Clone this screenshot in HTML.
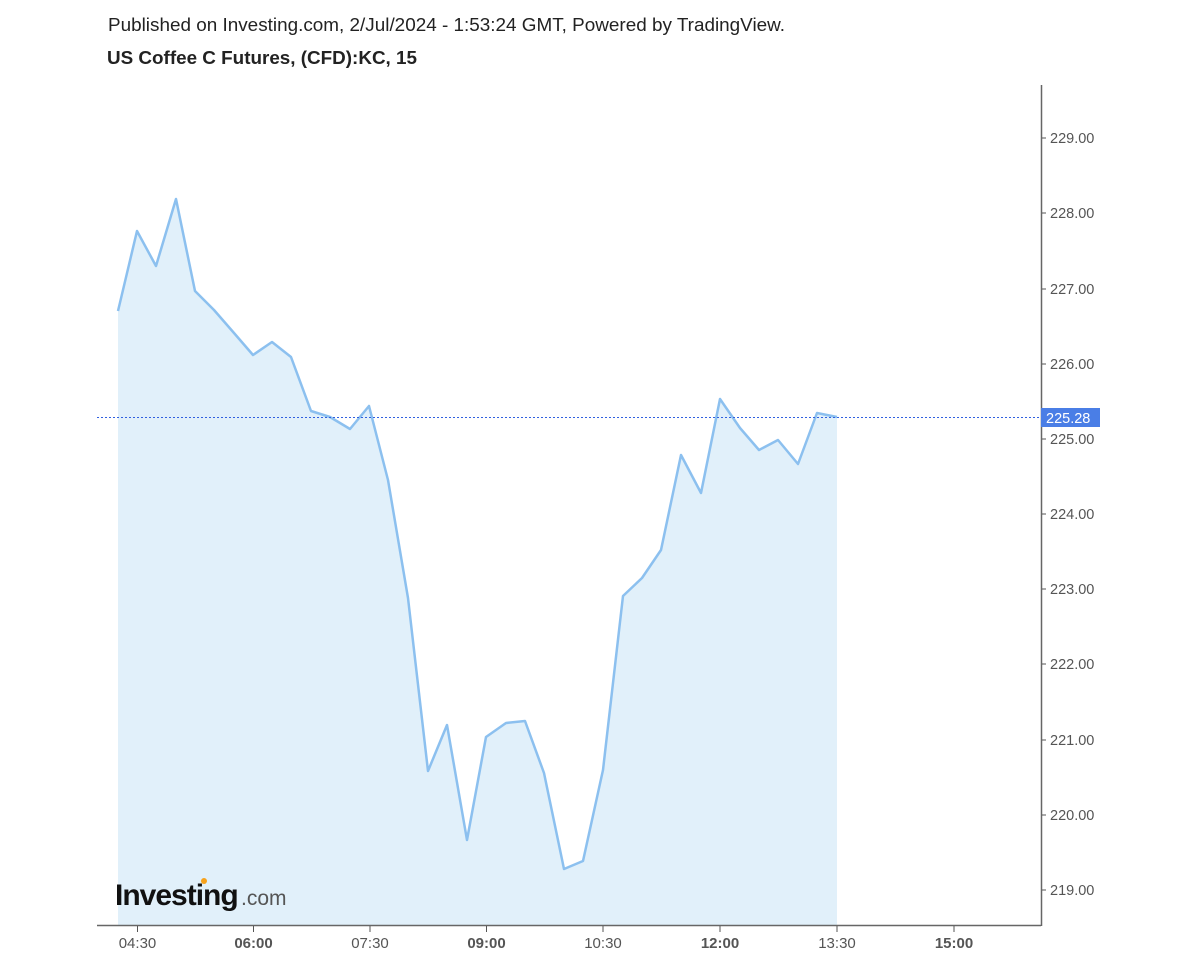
<!DOCTYPE html>
<html><head><meta charset="utf-8"><style>
body{margin:0;background:#fff;}
svg{display:block;font-family:"Liberation Sans",Arial,sans-serif;}
</style></head><body>
<svg width="1200" height="960" viewBox="0 0 1200 960">
<rect width="1200" height="960" fill="#fff"/>
<text x="108" y="31" font-size="18" fill="#222" textLength="677" lengthAdjust="spacingAndGlyphs">Published on Investing.com, 2/Jul/2024 - 1:53:24 GMT, Powered by TradingView.</text>
<text x="107" y="64" font-size="18" font-weight="bold" fill="#222" textLength="310" lengthAdjust="spacingAndGlyphs">US Coffee C Futures, (CFD):KC, 15</text>
<polygon fill="#e1f0fa" points="118,925 118,311 137,231 156,266 176,199 195,291 214,310 234,333 253,355 272,342 291,357 311,411 330,417 350,429 369,406 388,480 408,598 428,771 447,725 467,840 486,737 506,723 525,721 544,773 564,869 583,861 603,770 623,596 642,578 661,550 681,455 701,493 720,399 740,428 759,450 778,440 798,464 817,413 837,417 837,925"/>
<polyline fill="none" stroke="#8cc0ef" stroke-width="2.5" stroke-linejoin="round" points="118,311 137,231 156,266 176,199 195,291 214,310 234,333 253,355 272,342 291,357 311,411 330,417 350,429 369,406 388,480 408,598 428,771 447,725 467,840 486,737 506,723 525,721 544,773 564,869 583,861 603,770 623,596 642,578 661,550 681,455 701,493 720,399 740,428 759,450 778,440 798,464 817,413 837,417"/>
<line x1="97" y1="417.5" x2="1041" y2="417.5" stroke="#3060e0" stroke-width="1" stroke-dasharray="2,2"/>
<line x1="1041.5" y1="85" x2="1041.5" y2="926" stroke="#666" stroke-width="1.5"/>
<line x1="97" y1="925.5" x2="1041" y2="925.5" stroke="#666" stroke-width="1.5"/>
<g font-size="14.5" fill="#555">
<g stroke="#555">
<line x1="1042" x2="1046" y1="138" y2="138"/><line x1="1042" x2="1046" y1="213" y2="213"/><line x1="1042" x2="1046" y1="289" y2="289"/><line x1="1042" x2="1046" y1="364" y2="364"/><line x1="1042" x2="1046" y1="439" y2="439"/><line x1="1042" x2="1046" y1="514" y2="514"/><line x1="1042" x2="1046" y1="589" y2="589"/><line x1="1042" x2="1046" y1="664" y2="664"/><line x1="1042" x2="1046" y1="740" y2="740"/><line x1="1042" x2="1046" y1="815" y2="815"/><line x1="1042" x2="1046" y1="890" y2="890"/>
<line x1="137.5" x2="137.5" y1="926" y2="932"/><line x1="253.5" x2="253.5" y1="926" y2="932"/><line x1="370" x2="370" y1="926" y2="932"/><line x1="486.5" x2="486.5" y1="926" y2="932"/><line x1="603" x2="603" y1="926" y2="932"/><line x1="720" x2="720" y1="926" y2="932"/><line x1="837" x2="837" y1="926" y2="932"/><line x1="954" x2="954" y1="926" y2="932"/>
</g>
<text x="1050" y="143">229.00</text><text x="1050" y="218">228.00</text><text x="1050" y="294">227.00</text><text x="1050" y="369">226.00</text><text x="1050" y="444">225.00</text><text x="1050" y="519">224.00</text><text x="1050" y="594">223.00</text><text x="1050" y="669">222.00</text><text x="1050" y="745">221.00</text><text x="1050" y="820">220.00</text><text x="1050" y="895">219.00</text>
<g text-anchor="middle" font-size="15">
<text x="137.5" y="948">04:30</text><text x="253.5" y="948" font-weight="bold">06:00</text><text x="370" y="948">07:30</text><text x="486.5" y="948" font-weight="bold">09:00</text><text x="603" y="948">10:30</text><text x="720" y="948" font-weight="bold">12:00</text><text x="837" y="948">13:30</text><text x="954" y="948" font-weight="bold">15:00</text>
</g>
</g>
<rect x="1041" y="408" width="59" height="19" fill="#4a7ee6"/>
<text x="1046" y="423" font-size="14.5" fill="#fff">225.28</text>
<text x="115" y="905" font-size="30" font-weight="bold" fill="#111" letter-spacing="-1">Investing</text>
<text x="241" y="905" font-size="21" fill="#555">.com</text>
<circle cx="204" cy="881" r="3" fill="#f7a21b"/>
</svg>
</body></html>
